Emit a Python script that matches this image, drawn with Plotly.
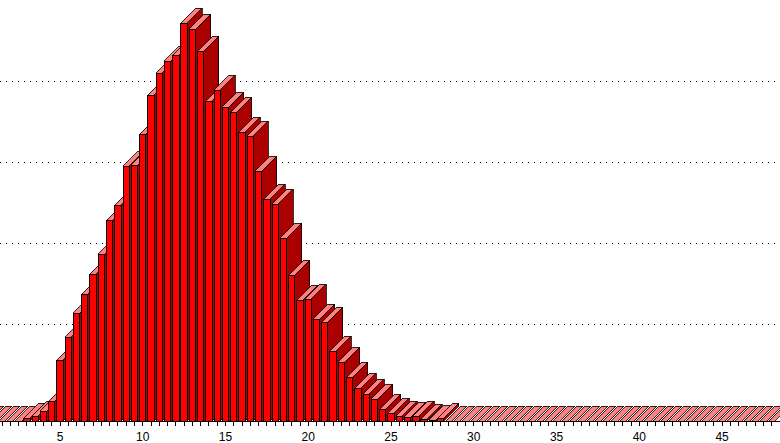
import plotly.graph_objects as go

bin_start = 0.5
bin_step = 0.5
heights = [0, 0, 0, 0, 0,  # 0.5 - 2.5
           3, 5, 10, 20, 61, 84, 108, 127, 147, 167, 201, 216, 255, 256, 287,
           326, 348, 360, 366, 398, 392, 370, 320, 331, 314, 309, 289, 285, 250,
           222, 217, 183, 146, 121, 122, 102, 99, 70, 59, 44, 33, 27, 22, 12, 8,
           5, 4, 5, 2, 1, 3] + [0] * 40
tick_labels = [5, 10, 15, 20, 25, 30, 35, 40, 45]

BAR_W = 0.38
DEPTH_X = 15 / 16.55
DEPTH_Y = 15
GRID_STEP = 81.25
FRONT = "#FF0000"
SIDE = "#AA0000"
TOP = "#FF8080"


def poly(xs, ys, color, width):
    return go.Scatter(x=xs + xs[:1], y=ys + ys[:1], mode="lines", fill="toself",
                      fillcolor=color, line=dict(color="#000000", width=width),
                      hoverinfo="skip", showlegend=False)


fig = go.Figure()
for i, h in enumerate(heights):
    c = bin_start + i * bin_step
    x0, x1 = c - BAR_W / 2, c + BAR_W / 2
    if h > 0:
        fig.add_trace(poly([x1, x1 + DEPTH_X, x1 + DEPTH_X, x1],
                           [0, DEPTH_Y, h + DEPTH_Y, h], SIDE, 0.8))
    fig.add_trace(poly([x0, x1, x1 + DEPTH_X, x0 + DEPTH_X],
                       [h, h, h + DEPTH_Y, h + DEPTH_Y], TOP, 0.8))
    if h > 0:
        fig.add_trace(poly([x0, x1, x1, x0], [0, 0, h, h], FRONT, 1))

fig.update_layout(
    width=780, height=443,
    margin=dict(l=0, r=0, t=0, b=22),
    paper_bgcolor="#FFFFFF", plot_bgcolor="#FFFFFF",
    showlegend=False,
    font=dict(family="Liberation Sans", size=12, color="#000000"),
    xaxis=dict(range=[1.375, 48.5], tickmode="array", tickvals=tick_labels,
               ticktext=[str(t) for t in tick_labels], ticks="outside", ticklen=4,
               tickcolor="#000000", showgrid=False, zeroline=False,
               showline=True, linecolor="#000000", linewidth=1,
               ticklabelstandoff=1, automargin=False,
               minor=dict(dtick=bin_step, tick0=0, ticks="outside", ticklen=4,
                          tickcolor="#000000", showgrid=False),
               tickfont=dict(size=12, color="#000000")),
    yaxis=dict(range=[0, 421], tickmode="array", automargin=False,
               tickvals=[DEPTH_Y + GRID_STEP * k for k in range(1, 6)],
               showticklabels=False, ticks="", showline=False, zeroline=False,
               showgrid=True, gridcolor="#000000", gridwidth=1,
               griddash="1px,5px"),
)
fig.write_html(
    "out.html",
    config={"displayModeBar": False},
    post_script="document.body.style.margin='0';"
                "document.documentElement.style.overflow='hidden';"
                "document.querySelectorAll('.scatterlayer path').forEach("
                "function(p){p.style.shapeRendering='crispEdges';});",
)
